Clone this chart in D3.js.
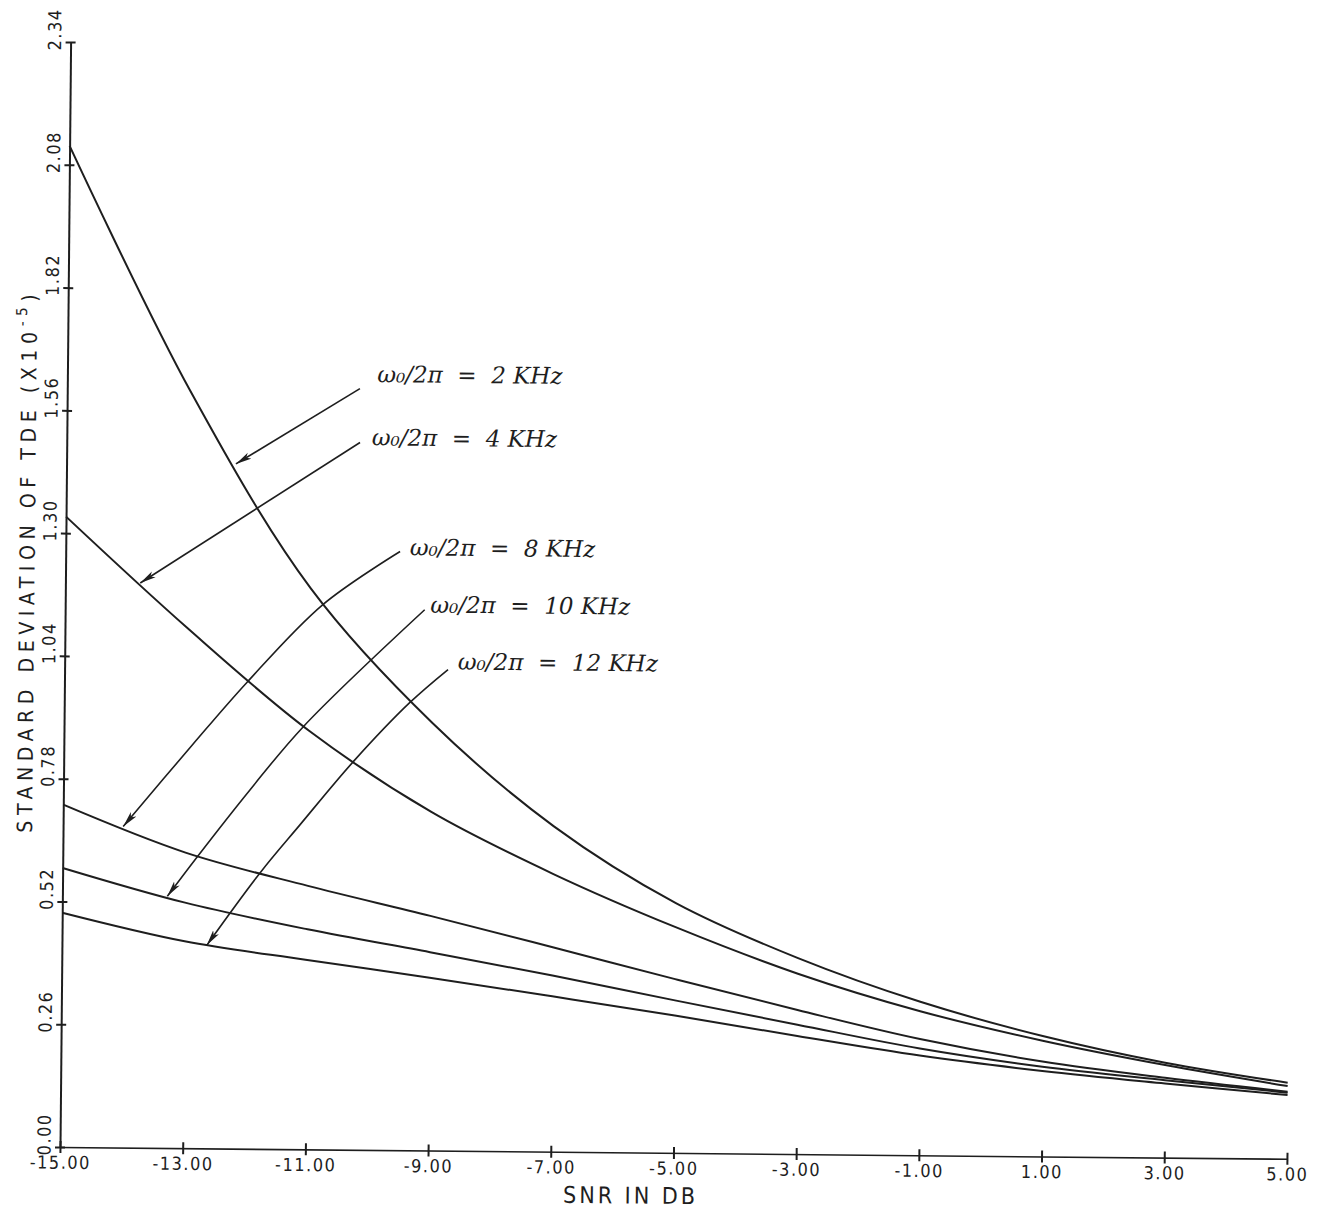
<!DOCTYPE html>
<html>
<head>
<meta charset="utf-8">
<script src="https://cdn.jsdelivr.net/npm/d3@7"></script>
<style>
  html, body { margin: 0; padding: 0; background: #fff; }
  svg { display: block; }
</style>
</head>
<body>
<script>
// SNR (dB) sample points
const snr = [-15, -13, -11, -9, -7, -5, -3, -1, 1, 3, 5];

// standard deviation of TDE (x1e-5), one array per w0/2pi
const sd2kHz  = [2.12, 1.605, 1.188, 0.906, 0.689, 0.529, 0.415, 0.325, 0.255, 0.201, 0.161];
const sd4kHz  = [1.335, 1.101, 0.886, 0.717, 0.588, 0.478, 0.382, 0.305, 0.245, 0.196, 0.154];
const sd8kHz  = [0.725, 0.626, 0.558, 0.497, 0.433, 0.368, 0.305, 0.246, 0.201, 0.169, 0.142];
const sd10kHz = [0.591, 0.520, 0.466, 0.420, 0.373, 0.323, 0.274, 0.226, 0.190, 0.164, 0.140];
const sd12kHz = [0.496, 0.438, 0.401, 0.366, 0.329, 0.291, 0.250, 0.211, 0.181, 0.157, 0.135];

const seriesNames = ["2", "4", "8", "10", "12"];
const seriesValues = [sd2kHz, sd4kHz, sd8kHz, sd10kHz, sd12kHz];

// axis ticks
const xTicks = [-15, -13, -11, -9, -7, -5, -3, -1, 1, 3, 5];
const yTicks = [0, 0.26, 0.52, 0.78, 1.04, 1.30, 1.56, 1.82, 2.08, 2.34];

// hand-written labels: text anchor and leader path, in data units (snr, sd)
const labelAnchors = [[-9.95, 1.643], [-10.03, 1.509], [-9.39, 1.277], [-9.05, 1.156], [-8.59, 1.036]];
const leaderPaths = [
  [[-10.23, 1.612], [-12.24, 1.450]],
  [[-10.22, 1.498], [-13.78, 1.196]],
  [[-9.55, 1.268], [-10.80, 1.154], [-12.03, 0.987], [-12.90, 0.855], [-14.02, 0.680]],
  [[-9.14, 1.145], [-11.10, 0.895], [-11.96, 0.760], [-12.81, 0.617], [-13.29, 0.533]],
  [[-8.75, 1.019], [-9.37, 0.948], [-10.28, 0.822], [-11.14, 0.687], [-11.78, 0.585], [-12.64, 0.430]]
];

const width = 1329;
const height = 1213;
const ink = "#1e1e1e";
const plotFont = "'Liberation Sans Narrow', 'DejaVu Sans Condensed', sans-serif";

const svg = d3.select("body").append("svg")
  .attr("width", width)
  .attr("height", height);

const x = d3.scaleLinear().domain([-15, 5]).range([60, 1287]);
const y = d3.scaleLinear().domain([0, 2.34]).range([1147, 42]);

// the original page sits a little crooked on the scanner
const g = svg.append("g")
  .attr("transform", `rotate(0.55, ${x(-15)}, ${y(0)})`);

svg.append("defs").append("marker")
  .attr("id", "arrow")
  .attr("viewBox", "0 0 16 8")
  .attr("refX", 16)
  .attr("refY", 4)
  .attr("markerWidth", 16)
  .attr("markerHeight", 8)
  .attr("markerUnits", "userSpaceOnUse")
  .attr("orient", "auto")
  .append("path")
  .attr("d", "M0,0.5 L16,4 L0,7.5 L4,4 Z")
  .attr("fill", ink);

// x axis
const xAxis = g.append("g")
  .attr("transform", `translate(0, ${y(0)})`)
  .call(d3.axisBottom(x).tickValues(xTicks).tickFormat(d => d.toFixed(2)).tickSize(6).tickSizeOuter(0));
xAxis.select(".domain").attr("stroke", ink).attr("stroke-width", 1.6);
xAxis.selectAll(".tick line").attr("y1", -6).attr("y2", 6).attr("stroke", ink).attr("stroke-width", 2);
xAxis.selectAll(".tick text")
  .attr("y", 9)
  .attr("fill", ink)
  .style("font-family", plotFont)
  .style("font-size", "18px")
  .style("letter-spacing", "1.5px");

// y axis
const yAxis = g.append("g")
  .attr("transform", `translate(${x(-15)}, 0)`)
  .call(d3.axisLeft(y).tickValues(yTicks).tickFormat(d => d.toFixed(2)).tickSize(5).tickSizeOuter(0));
yAxis.select(".domain").attr("stroke", ink).attr("stroke-width", 2);
yAxis.selectAll(".tick line").attr("x1", -5).attr("x2", 5).attr("stroke", ink).attr("stroke-width", 2);
yAxis.selectAll(".tick text")
  .attr("x", null)
  .attr("dy", null)
  .attr("transform", "translate(-16, -13) rotate(-90)")
  .attr("text-anchor", "middle")
  .attr("dominant-baseline", "central")
  .attr("fill", ink)
  .style("font-family", plotFont)
  .style("font-size", "18px")
  .style("letter-spacing", "1.5px");

// axis titles
g.append("text")
  .attr("x", 631)
  .attr("y", 1198)
  .attr("text-anchor", "middle")
  .attr("fill", ink)
  .style("font-family", plotFont)
  .style("font-size", "23px")
  .style("letter-spacing", "3px")
  .text("SNR IN DB");

const yTitle = g.append("text")
  .attr("transform", "translate(22, 561) rotate(-90)")
  .attr("text-anchor", "middle")
  .attr("dominant-baseline", "central")
  .attr("fill", ink)
  .style("font-family", plotFont)
  .style("font-size", "21px")
  .style("letter-spacing", "5.6px");
yTitle.append("tspan").text("STANDARD DEVIATION OF TDE (X10");
yTitle.append("tspan").attr("dy", -8).style("font-size", "15px").text("-5");
yTitle.append("tspan").attr("dy", 8).text(")");

// curves
const line = d3.line()
  .x((d, i) => x(snr[i]))
  .y(d => y(d))
  .curve(d3.curveCatmullRom.alpha(0.5));

g.append("g")
  .selectAll("path")
  .data(seriesValues)
  .join("path")
  .attr("d", line)
  .attr("fill", "none")
  .attr("stroke", ink)
  .attr("stroke-width", 2);

// labels with leaders
const leader = d3.line()
  .x(d => x(d[0]))
  .y(d => y(d[1]))
  .curve(d3.curveCatmullRom);

g.append("g")
  .selectAll("path")
  .data(leaderPaths)
  .join("path")
  .attr("d", leader)
  .attr("fill", "none")
  .attr("stroke", ink)
  .attr("stroke-width", 1.6)
  .attr("marker-end", "url(#arrow)");

g.append("g")
  .selectAll("text")
  .data(labelAnchors)
  .join("text")
  .attr("x", d => x(d[0]))
  .attr("y", d => y(d[1]))
  .attr("dominant-baseline", "central")
  .attr("fill", ink)
  .style("font-family", "'DejaVu Serif', serif")
  .style("font-style", "italic")
  .style("font-size", "23px")
  .style("white-space", "pre")
  .text((d, i) => `ω₀/2π  =  ${seriesNames[i]} KHz`);
</script>
</body>
</html>
